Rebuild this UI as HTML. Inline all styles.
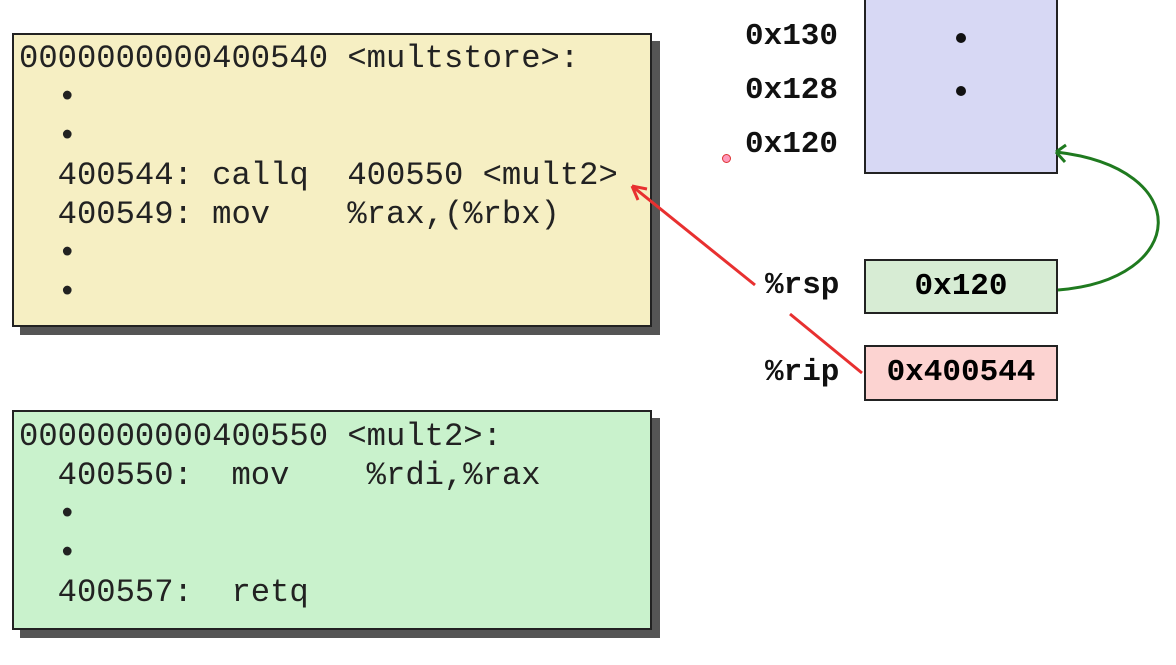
<!DOCTYPE html>
<html><head><style>
body{margin:0;width:1176px;height:665px;background:#fff;position:relative;overflow:hidden;font-family:"Liberation Mono",monospace}
.box{position:absolute;border:2px solid #222;box-shadow:8px 8px 0 #555}
.t{position:absolute;font-size:32.2px;white-space:pre;line-height:39px;color:#222}
.b{position:absolute;font-weight:bold;font-size:31px;color:#111;line-height:40px;white-space:pre}
.r{position:absolute;border:2px solid #222;font-weight:bold;font-size:31px;text-align:center;box-sizing:border-box}
</style></head><body>
<div class="box" style="left:12px;top:33px;width:636px;height:290px;background:#f6efc3"></div>
<div class="t" style="left:19px;top:39px">0000000000400540 &lt;multstore&gt;:
  •
  •
  400544: callq  400550 &lt;mult2&gt;
  400549: mov    %rax,(%rbx)
  •
  •</div>
<div class="box" style="left:12px;top:410px;width:636px;height:216px;background:#c9f2cc"></div>
<div class="t" style="left:19px;top:417px">0000000000400550 &lt;mult2&gt;:
  400550:  mov    %rdi,%rax
  •
  •
  400557:  retq</div>
<div class="r" style="left:864px;top:-4px;width:194px;height:178px;background:#d7d8f4"></div>
<div style="position:absolute;left:956px;top:33px;width:10px;height:10px;border-radius:50%;background:#111"></div>
<div style="position:absolute;left:956px;top:86px;width:10px;height:10px;border-radius:50%;background:#111"></div>
<div class="b" style="left:745px;top:17px">0x130</div>
<div class="b" style="left:745px;top:71px">0x128</div>
<div class="b" style="left:745px;top:125px">0x120</div>
<div class="b" style="left:765px;top:266px">%rsp</div>
<div class="b" style="left:765px;top:353px">%rip</div>
<div class="r" style="left:864px;top:259px;width:194px;height:55px;background:#d7ecd4;line-height:51px">0x120</div>
<div class="r" style="left:864px;top:345px;width:194px;height:56px;background:#fcd3d1;line-height:52px">0x400544</div>
<div style="position:absolute;left:722px;top:154px;width:7px;height:7px;border-radius:50%;border:1px solid #d33;background:#f9b"></div>
<svg width="1176" height="665" style="position:absolute;left:0;top:0">
<line x1="862" y1="373" x2="790" y2="314" stroke="#e83030" stroke-width="3"/>
<line x1="755" y1="285" x2="632" y2="186" stroke="#e83030" stroke-width="3"/>
<path d="M632 186 l6 14 M632 186 l15 3" stroke="#e83030" stroke-width="3" fill="none"/>
<path d="M1058 290 C1188 280 1196 168 1056 152" stroke="#1f7a1f" stroke-width="3" fill="none"/>
<path d="M1056 152 l10 -7 M1056 152 l9 10" stroke="#1f7a1f" stroke-width="3" fill="none"/>
</svg>
</body></html>
